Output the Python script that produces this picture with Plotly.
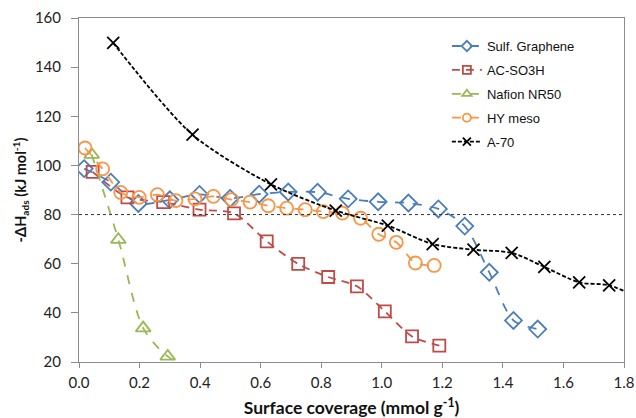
import plotly.graph_objects as go

# ---- data ----
sg_x = [0.017, 0.105, 0.196, 0.30, 0.398, 0.499, 0.595, 0.691, 0.788, 0.889, 0.988, 1.088, 1.187, 1.274, 1.355, 1.435, 1.515]
sg_y = [98.7, 93.2, 84.5, 86.0, 88.2, 86.6, 88.3, 89.2, 89.1, 86.4, 85.2, 84.7, 82.3, 75.3, 56.5, 36.9, 33.4]

ac_x = [0.045, 0.160, 0.278, 0.398, 0.512, 0.620, 0.724, 0.823, 0.918, 1.010, 1.100, 1.190]
ac_y = [97.4, 87.0, 85.1, 82.0, 80.5, 69.1, 59.9, 54.6, 50.8, 40.6, 30.4, 26.7]

nf_x = [0.042, 0.130, 0.212, 0.293, 0.45]
nf_y = [104.4, 69.8, 33.8, 22.3, 13.0]

hy_x = [0.020, 0.078, 0.138, 0.199, 0.259, 0.320, 0.383, 0.444, 0.504, 0.565, 0.625, 0.686, 0.747, 0.807, 0.870, 0.930, 0.990, 1.048, 1.111, 1.173]
hy_y = [107.1, 98.6, 89.0, 87.0, 88.1, 85.7, 86.4, 87.4, 86.1, 85.1, 83.6, 82.6, 82.0, 81.2, 80.6, 78.5, 72.0, 68.7, 60.3, 59.3]

a70_x = [0.113, 0.375, 0.634, 0.848, 1.020, 1.168, 1.303, 1.429, 1.537, 1.652, 1.751, 1.86]
a70_y = [149.9, 112.5, 92.3, 81.6, 75.5, 68.0, 65.7, 64.4, 58.7, 52.4, 51.2, 45.5]

x_ticks = [0.0, 0.2, 0.4, 0.6, 0.8, 1.0, 1.2, 1.4, 1.6, 1.8]
y_ticks = [20, 40, 60, 80, 100, 120, 140, 160]
ref_level = 80

series = [
    ("Sulf. Graphene", sg_x, sg_y, "#4A7EBB", "diamond-open", 13, "dash"),
    ("AC-SO3H", ac_x, ac_y, "#BE4B48", "square-open", 12, "8px,6px"),
    ("Nafion NR50", nf_x, nf_y, "#98B954", "triangle-up-open", 13, "dash"),
    ("HY meso", hy_x, hy_y, "#F79646", "circle-open", 13, "dash"),
    ("A-70", a70_x, a70_y, "#000000", "x-thin-open", 12, "4px,2px"),
]

fig = go.Figure()
for name, xs, ys, col, sym, sz, dash in series:
    fig.add_trace(go.Scatter(
        x=xs, y=ys, name=name, mode="lines+markers", showlegend=False,
        line=dict(color=col, width=1.8, dash=dash, shape="spline", smoothing=0.8),
        marker=dict(symbol=sym, size=sz, color=col, line=dict(color=col, width=1.8)),
    ))
# legend entries with small symbols, as in the reference
for name, xs, ys, col, sym, sz, dash in series:
    fig.add_trace(go.Scatter(
        x=[None], y=[None], name=name, mode="lines+markers", legendgroup=name,
        line=dict(color=col, width=1.8, dash=dash),
        marker=dict(symbol=sym, size=8, color=col, line=dict(color=col, width=1.8)),
    ))

fig.add_shape(type="line", xref="paper", x0=0, x1=1, yref="y", y0=ref_level, y1=ref_level,
              line=dict(color="#333333", width=1, dash="dot"))

axis_common = dict(showline=True, linecolor="#8C8C8C", linewidth=1, mirror=True,
                   showgrid=False, zeroline=False, ticks="outside", tickcolor="#8C8C8C",
                   automargin=False,
                   tickfont=dict(family="Lato", size=15, color="#222222"))

fig.update_xaxes(range=[0, 1.8], tickvals=x_ticks, tickformat=".1f", ticklen=5,
                 ticklabelstandoff=2,
                 title=dict(text="<b>Surface coverage (mmol g<sup>-1</sup>)</b>",
                            font=dict(family="Lato", size=17.5, color="#111111"), standoff=14),
                 **axis_common)
fig.update_yaxes(range=[20, 160], tickvals=y_ticks, ticklen=7, ticklabelstandoff=7,
                 title=dict(text="<b>-ΔH<sub>ads</sub> (kJ mol<sup>-1</sup>)</b>",
                            font=dict(family="Lato", size=14.5, color="#111111"), standoff=4),
                 **axis_common)

fig.update_layout(
    width=636, height=418,
    margin=dict(l=79, r=12, t=18, b=56, autoexpand=False),
    paper_bgcolor="white", plot_bgcolor="white",
    legend=dict(x=0.675, y=0.962, xanchor="left", yanchor="top",
                font=dict(family="Liberation Sans", size=13, color="#111111"),
                bgcolor="rgba(0,0,0,0)", itemwidth=30, tracegroupgap=4),
    showlegend=True,
)

fig.write_html("out.html", config={"displayModeBar": False},
               post_script="document.body.style.margin='0';document.body.style.padding='0';")
